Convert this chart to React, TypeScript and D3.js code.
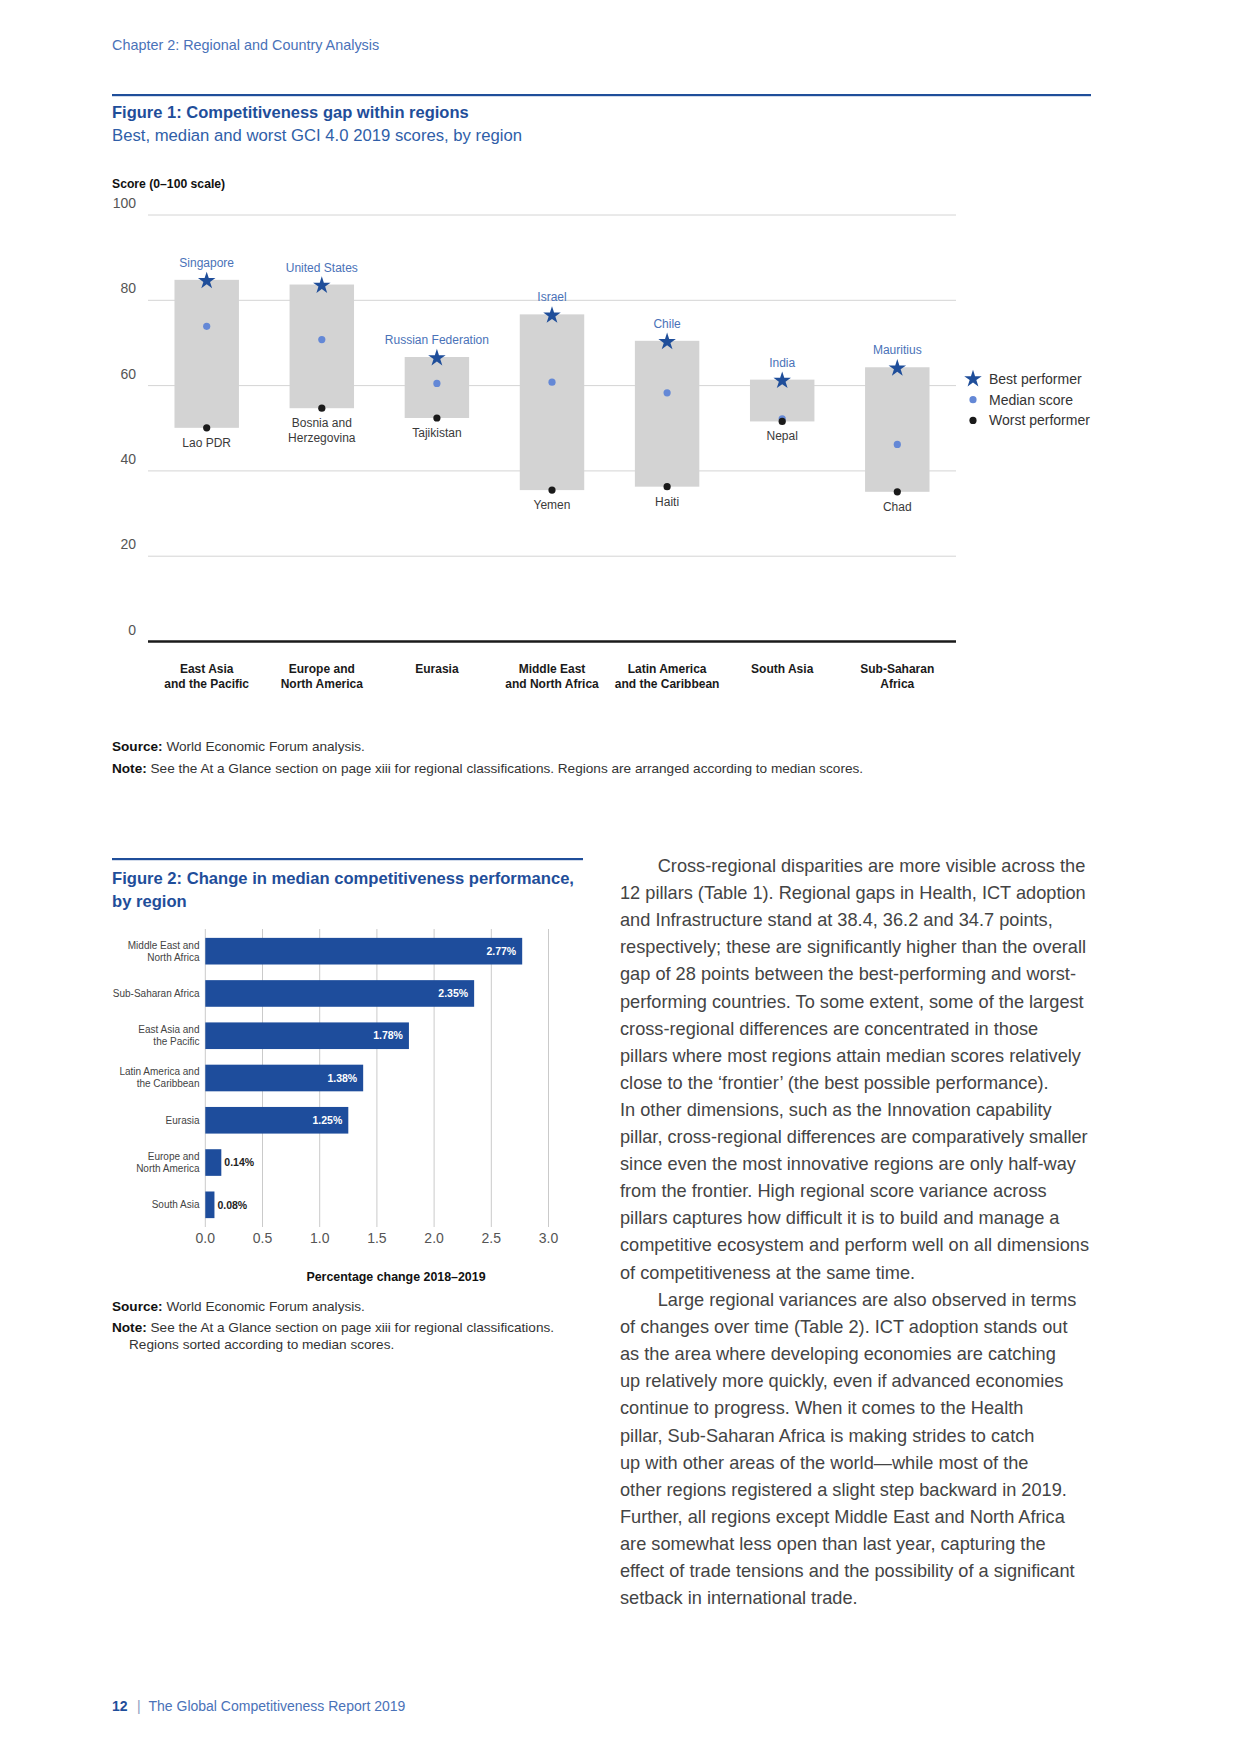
import { useEffect, useRef } from 'react'
import * as d3 from 'd3'

const W = 1240
const H = 1754
const FONT = "'Liberation Sans', Arial, Helvetica, sans-serif"

const BLUE_DARK = '#1f4e9a'
const BLUE_TEXT = '#2f5ea8'
const BLUE_LIGHT = '#4a72b8'

// Figure 1 data
const regionLines = [
  ['East Asia', 'and the Pacific'],
  ['Europe and', 'North America'],
  ['Eurasia'],
  ['Middle East', 'and North Africa'],
  ['Latin America', 'and the Caribbean'],
  ['South Asia'],
  ['Sub-Saharan', 'Africa'],
]
const bestScores = [84.8, 83.7, 66.7, 76.7, 70.5, 61.4, 64.3]
const medianScores = [73.9, 70.8, 60.5, 60.8, 58.3, 52.2, 46.2]
const worstScores = [50.1, 54.7, 52.4, 35.5, 36.3, 51.6, 35.1]
const bestNames = ['Singapore', 'United States', 'Russian Federation', 'Israel', 'Chile', 'India', 'Mauritius']
const worstNames = [['Lao PDR'], ['Bosnia and', 'Herzegovina'], ['Tajikistan'], ['Yemen'], ['Haiti'], ['Nepal'], ['Chad']]
const scoreTicks = [0, 20, 40, 60, 80, 100]
const legendLabels = ['Best performer', 'Median score', 'Worst performer']

// Figure 2 data
const changeRegions = [
  ['Middle East and', 'North Africa'],
  ['Sub-Saharan Africa'],
  ['East Asia and', 'the Pacific'],
  ['Latin America and', 'the Caribbean'],
  ['Eurasia'],
  ['Europe and', 'North America'],
  ['South Asia'],
]
const changeValues = [2.77, 2.35, 1.78, 1.38, 1.25, 0.14, 0.08]
const changeTicks = [0, 0.5, 1, 1.5, 2, 2.5, 3]

const para1 = [
  'Cross-regional disparities are more visible across the',
  '12 pillars (Table 1). Regional gaps in Health, ICT adoption',
  'and Infrastructure stand at 38.4, 36.2 and 34.7 points,',
  'respectively; these are significantly higher than the overall',
  'gap of 28 points between the best-performing and worst-',
  'performing countries. To some extent, some of the largest',
  'cross-regional differences are concentrated in those',
  'pillars where most regions attain median scores relatively',
  'close to the \u2018frontier\u2019 (the best possible performance).',
  'In other dimensions, such as the Innovation capability',
  'pillar, cross-regional differences are comparatively smaller',
  'since even the most innovative regions are only half-way',
  'from the frontier. High regional score variance across',
  'pillars captures how difficult it is to build and manage a',
  'competitive ecosystem and perform well on all dimensions',
  'of competitiveness at the same time.',
]
const para2 = [
  'Large regional variances are also observed in terms',
  'of changes over time (Table 2). ICT adoption stands out',
  'as the area where developing economies are catching',
  'up relatively more quickly, even if advanced economies',
  'continue to progress. When it comes to the Health',
  'pillar, Sub-Saharan Africa is making strides to catch',
  'up with other areas of the world\u2014while most of the',
  'other regions registered a slight step backward in 2019.',
  'Further, all regions except Middle East and North Africa',
  'are somewhat less open than last year, capturing the',
  'effect of trade tensions and the possibility of a significant',
  'setback in international trade.',
]

const App = () => {
  const ref = useRef(null)

  useEffect(() => {
    if (!ref.current) return
    const svg = d3.select(ref.current)
    svg.selectAll('*').remove()
    svg.style('font-family', FONT)

    const txt = (x, y, s, size, fill, weight = 'normal', anchor = 'start') =>
      svg.append('text')
        .attr('x', x).attr('y', y)
        .attr('font-size', size)
        .attr('fill', fill)
        .attr('font-weight', weight)
        .attr('text-anchor', anchor)
        .text(s)

    // page header
    txt(112, 50, 'Chapter 2: Regional and Country Analysis', 14.4, BLUE_LIGHT)
    svg.append('rect').attr('x', 112).attr('y', 94).attr('width', 979).attr('height', 2.2).attr('fill', BLUE_DARK)
    txt(112, 118, 'Figure 1: Competitiveness gap within regions', 16.5, BLUE_DARK, 'bold')
    txt(112, 140.5, 'Best, median and worst GCI 4.0 2019 scores, by region', 16.7, BLUE_TEXT)

    // ---------- Figure 1 ----------
    const x1 = d3.scaleBand()
      .domain(regionLines.map((_, i) => String(i)))
      .range([148, 956])
      .paddingInner(0.44)
      .paddingOuter(0.23)
    const y1 = d3.scaleLinear().domain([0, 100]).range([641.5, 215])

    txt(112, 188, 'Score (0\u2013100 scale)', 12.2, '#111', 'bold')

    const g1 = svg.append('g')
    g1.selectAll('.grid')
      .data(scoreTicks.filter(t => t > 0))
      .enter()
      .append('line')
      .attr('x1', 148).attr('x2', 956)
      .attr('y1', d => y1(d)).attr('y2', d => y1(d))
      .attr('stroke', '#d4d4d4').attr('stroke-width', 1)

    g1.selectAll('.ylab')
      .data(scoreTicks)
      .enter()
      .append('text')
      .attr('x', 136)
      .attr('y', d => y1(d) - 7)
      .attr('text-anchor', 'end')
      .attr('font-size', 14)
      .attr('fill', '#555')
      .text(d => d)

    // range bars
    g1.selectAll('.bar')
      .data(bestScores)
      .enter()
      .append('rect')
      .attr('x', (_, i) => x1(String(i)))
      .attr('width', x1.bandwidth())
      .attr('y', d => y1(d))
      .attr('height', (d, i) => y1(worstScores[i]) - y1(d))
      .attr('fill', '#d3d3d3')

    g1.append('line')
      .attr('x1', 148).attr('x2', 956)
      .attr('y1', y1(0)).attr('y2', y1(0))
      .attr('stroke', '#1a1a1a').attr('stroke-width', 2.5)

    const cx = i => x1(String(i)) + x1.bandwidth() / 2
    const star = d3.symbol().type(d3.symbolStar).size(95)

    g1.selectAll('.median')
      .data(medianScores)
      .enter()
      .append('circle')
      .attr('cx', (_, i) => cx(i)).attr('cy', d => y1(d)).attr('r', 3.6)
      .attr('fill', '#6488d6')

    g1.selectAll('.worst')
      .data(worstScores)
      .enter()
      .append('circle')
      .attr('cx', (_, i) => cx(i)).attr('cy', d => y1(d)).attr('r', 3.6)
      .attr('fill', '#1a1a1a')

    g1.selectAll('.best')
      .data(bestScores)
      .enter()
      .append('path')
      .attr('d', star)
      .attr('transform', (d, i) => `translate(${cx(i)},${y1(d) + 1})`)
      .attr('fill', BLUE_DARK)

    bestNames.forEach((n, i) => {
      txt(cx(i), y1(bestScores[i]) - 13, n, 12, BLUE_LIGHT, 'normal', 'middle')
    })
    worstNames.forEach((lines, i) => {
      lines.forEach((l, j) => {
        txt(cx(i), y1(worstScores[i]) + 19 + j * 14.7, l, 12, '#3a3a3a', 'normal', 'middle')
      })
    })
    regionLines.forEach((lines, i) => {
      lines.forEach((l, j) => {
        txt(cx(i), 673 + j * 14.7, l, 12, '#1a1a1a', 'bold', 'middle')
      })
    })

    // legend
    const lg = svg.append('g').attr('transform', 'translate(973,379)')
    lg.append('path').attr('d', star).attr('fill', BLUE_DARK)
    lg.append('circle').attr('cy', 20.7).attr('r', 3.6).attr('fill', '#6488d6')
    lg.append('circle').attr('cy', 41.4).attr('r', 3.6).attr('fill', '#1a1a1a')
    legendLabels.forEach((l, i) => {
      lg.append('text')
        .attr('x', 16).attr('y', i * 20.7 + 5)
        .attr('font-size', 14).attr('fill', '#333')
        .text(l)
    })

    // source / note
    const note = (x, y, head, body) => {
      const t = svg.append('text').attr('x', x).attr('y', y).attr('font-size', 13.6).attr('fill', '#333')
      if (head) t.append('tspan').attr('font-weight', 'bold').attr('fill', '#111').text(head + ' ')
      t.append('tspan').text(body)
    }
    note(112, 751, 'Source:', 'World Economic Forum analysis.')
    note(112, 772.5, 'Note:', 'See the At a Glance section on page xiii for regional classifications. Regions are arranged according to median scores.')

    // ---------- Figure 2 ----------
    svg.append('rect').attr('x', 112).attr('y', 858).attr('width', 471).attr('height', 2.2).attr('fill', BLUE_DARK)
    txt(112, 884.3, 'Figure 2: Change in median competitiveness performance,', 16.6, BLUE_DARK, 'bold')
    txt(112, 906.7, 'by region', 16.6, BLUE_DARK, 'bold')

    const x2 = d3.scaleLinear().domain([0, 3]).range([205.3, 548.5])
    const y2 = d3.scaleBand()
      .domain(changeRegions.map((_, i) => String(i)))
      .range([929, 1227])
      .paddingInner(0.37)
      .paddingOuter(0.21)

    const g2 = svg.append('g')
    g2.selectAll('.vgrid')
      .data(changeTicks)
      .enter()
      .append('line')
      .attr('x1', d => x2(d)).attr('x2', d => x2(d))
      .attr('y1', 929).attr('y2', 1227)
      .attr('stroke', '#cacaca').attr('stroke-width', 1)

    g2.selectAll('.xlab')
      .data(changeTicks)
      .enter()
      .append('text')
      .attr('x', d => x2(d)).attr('y', 1243)
      .attr('text-anchor', 'middle')
      .attr('font-size', 14).attr('fill', '#555')
      .text(d => d3.format('.1f')(d))

    g2.selectAll('.hbar')
      .data(changeValues)
      .enter()
      .append('rect')
      .attr('x', x2(0))
      .attr('y', (_, i) => y2(String(i)))
      .attr('width', d => x2(d) - x2(0))
      .attr('height', y2.bandwidth())
      .attr('fill', '#1e4d9c')

    changeValues.forEach((v, i) => {
      const yc = y2(String(i)) + y2.bandwidth() / 2
      const inside = v > 0.5
      txt(inside ? x2(v) - 6 : x2(v) + 3, yc + 3.7, v.toFixed(2) + '%', 10.5,
        inside ? '#fff' : '#222', 'bold', inside ? 'end' : 'start')
      const lines = changeRegions[i]
      lines.forEach((l, j) => {
        const yy = yc + 3.4 + (j - (lines.length - 1) / 2) * 12
        txt(199.5, yy, l, 10, '#444', 'normal', 'end')
      })
    })

    txt(396, 1281, 'Percentage change 2018\u20132019', 12.4, '#111', 'bold', 'middle')

    note(112, 1310.5, 'Source:', 'World Economic Forum analysis.')
    note(112, 1332, 'Note:', 'See the At a Glance section on page xiii for regional classifications.')
    note(129, 1349, '', 'Regions sorted according to median scores.')

    // ---------- body text ----------
    const body = (lines, y0) => {
      lines.forEach((l, i) => {
        txt(i === 0 ? 657.7 : 620, y0 + i * 27.1, l, 18.2, '#444')
      })
    }
    body(para1, 872)
    body(para2, 1306)

    // footer
    txt(112, 1711, '12', 14, BLUE_DARK, 'bold')
    txt(137, 1711, '|', 14, '#8a9cc0')
    txt(148.5, 1711, 'The Global Competitiveness Report 2019', 14, BLUE_LIGHT)
  }, [])

  return (
    <svg
      ref={ref}
      width={W}
      height={H}
      style={{ position: 'absolute', left: 0, top: 0, background: '#fff' }}
    ></svg>
  )
}

export default App
